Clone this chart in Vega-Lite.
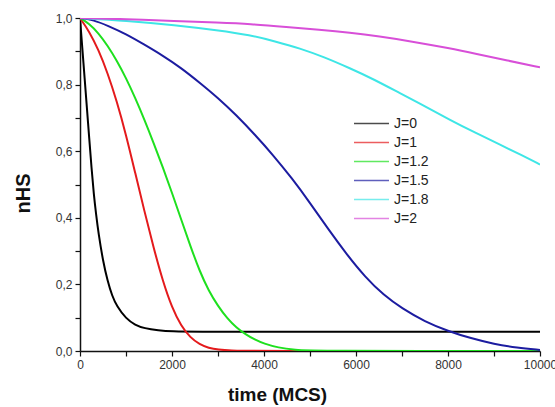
{
  "$schema": "https://vega.github.io/schema/vega-lite/v6.json",
  "width": 460,
  "height": 333,
  "autosize": "none",
  "padding": {"left": 80, "top": 18, "right": 15, "bottom": 56},
  "background": "white",
  "config": {
    "view": {"stroke": null},
    "font": "Liberation Sans"
  },
  "data": {
    "values": [
      {"J": "J=0", "t": 0, "n": 1.0},
      {"J": "J=0", "t": 50, "n": 0.91},
      {"J": "J=0", "t": 100, "n": 0.82},
      {"J": "J=0", "t": 150, "n": 0.73},
      {"J": "J=0", "t": 200, "n": 0.64},
      {"J": "J=0", "t": 250, "n": 0.55},
      {"J": "J=0", "t": 300, "n": 0.47},
      {"J": "J=0", "t": 350, "n": 0.41},
      {"J": "J=0", "t": 400, "n": 0.355},
      {"J": "J=0", "t": 500, "n": 0.27},
      {"J": "J=0", "t": 600, "n": 0.21},
      {"J": "J=0", "t": 700, "n": 0.165},
      {"J": "J=0", "t": 800, "n": 0.135},
      {"J": "J=0", "t": 1000, "n": 0.097},
      {"J": "J=0", "t": 1200, "n": 0.078},
      {"J": "J=0", "t": 1400, "n": 0.068},
      {"J": "J=0", "t": 1700, "n": 0.062},
      {"J": "J=0", "t": 2000, "n": 0.059},
      {"J": "J=0", "t": 2500, "n": 0.058},
      {"J": "J=0", "t": 4000, "n": 0.058},
      {"J": "J=0", "t": 6000, "n": 0.058},
      {"J": "J=0", "t": 8000, "n": 0.058},
      {"J": "J=0", "t": 10000, "n": 0.058},

      {"J": "J=1", "t": 0, "n": 1.0},
      {"J": "J=1", "t": 200, "n": 0.96},
      {"J": "J=1", "t": 400, "n": 0.905},
      {"J": "J=1", "t": 600, "n": 0.835},
      {"J": "J=1", "t": 800, "n": 0.75},
      {"J": "J=1", "t": 1000, "n": 0.65},
      {"J": "J=1", "t": 1200, "n": 0.535},
      {"J": "J=1", "t": 1400, "n": 0.42},
      {"J": "J=1", "t": 1600, "n": 0.31},
      {"J": "J=1", "t": 1800, "n": 0.21},
      {"J": "J=1", "t": 2000, "n": 0.13},
      {"J": "J=1", "t": 2200, "n": 0.075},
      {"J": "J=1", "t": 2400, "n": 0.04},
      {"J": "J=1", "t": 2600, "n": 0.02},
      {"J": "J=1", "t": 2800, "n": 0.009},
      {"J": "J=1", "t": 3000, "n": 0.004},
      {"J": "J=1", "t": 3300, "n": 0.001},
      {"J": "J=1", "t": 3600, "n": 0.0},
      {"J": "J=1", "t": 10000, "n": 0.0},

      {"J": "J=1.2", "t": 0, "n": 1.0},
      {"J": "J=1.2", "t": 200, "n": 0.983},
      {"J": "J=1.2", "t": 400, "n": 0.955},
      {"J": "J=1.2", "t": 600, "n": 0.917},
      {"J": "J=1.2", "t": 800, "n": 0.872},
      {"J": "J=1.2", "t": 1000, "n": 0.82},
      {"J": "J=1.2", "t": 1200, "n": 0.76},
      {"J": "J=1.2", "t": 1400, "n": 0.695},
      {"J": "J=1.2", "t": 1600, "n": 0.625},
      {"J": "J=1.2", "t": 1800, "n": 0.552},
      {"J": "J=1.2", "t": 2000, "n": 0.475},
      {"J": "J=1.2", "t": 2200, "n": 0.395},
      {"J": "J=1.2", "t": 2400, "n": 0.315},
      {"J": "J=1.2", "t": 2600, "n": 0.24},
      {"J": "J=1.2", "t": 2800, "n": 0.18},
      {"J": "J=1.2", "t": 3000, "n": 0.135},
      {"J": "J=1.2", "t": 3200, "n": 0.098},
      {"J": "J=1.2", "t": 3400, "n": 0.07},
      {"J": "J=1.2", "t": 3600, "n": 0.05},
      {"J": "J=1.2", "t": 3800, "n": 0.034},
      {"J": "J=1.2", "t": 4000, "n": 0.022},
      {"J": "J=1.2", "t": 4300, "n": 0.01},
      {"J": "J=1.2", "t": 4700, "n": 0.003},
      {"J": "J=1.2", "t": 5000, "n": 0.0},
      {"J": "J=1.2", "t": 10000, "n": 0.0},

      {"J": "J=1.5", "t": 0, "n": 1.0},
      {"J": "J=1.5", "t": 300, "n": 0.994},
      {"J": "J=1.5", "t": 600, "n": 0.977},
      {"J": "J=1.5", "t": 1000, "n": 0.952},
      {"J": "J=1.5", "t": 1400, "n": 0.92},
      {"J": "J=1.5", "t": 1800, "n": 0.887},
      {"J": "J=1.5", "t": 2200, "n": 0.85},
      {"J": "J=1.5", "t": 2600, "n": 0.806},
      {"J": "J=1.5", "t": 3000, "n": 0.76},
      {"J": "J=1.5", "t": 3400, "n": 0.708},
      {"J": "J=1.5", "t": 3800, "n": 0.65},
      {"J": "J=1.5", "t": 4200, "n": 0.588},
      {"J": "J=1.5", "t": 4600, "n": 0.52},
      {"J": "J=1.5", "t": 5000, "n": 0.445},
      {"J": "J=1.5", "t": 5400, "n": 0.365},
      {"J": "J=1.5", "t": 5800, "n": 0.29},
      {"J": "J=1.5", "t": 6200, "n": 0.222},
      {"J": "J=1.5", "t": 6600, "n": 0.168},
      {"J": "J=1.5", "t": 7000, "n": 0.128},
      {"J": "J=1.5", "t": 7500, "n": 0.088},
      {"J": "J=1.5", "t": 8000, "n": 0.06},
      {"J": "J=1.5", "t": 8500, "n": 0.038},
      {"J": "J=1.5", "t": 9000, "n": 0.021},
      {"J": "J=1.5", "t": 9500, "n": 0.01},
      {"J": "J=1.5", "t": 10000, "n": 0.003},

      {"J": "J=1.8", "t": 0, "n": 1.0},
      {"J": "J=1.8", "t": 1000, "n": 0.992},
      {"J": "J=1.8", "t": 2065, "n": 0.979},
      {"J": "J=1.8", "t": 3000, "n": 0.963},
      {"J": "J=1.8", "t": 3696, "n": 0.949},
      {"J": "J=1.8", "t": 4239, "n": 0.93},
      {"J": "J=1.8", "t": 4783, "n": 0.909},
      {"J": "J=1.8", "t": 5300, "n": 0.883},
      {"J": "J=1.8", "t": 5870, "n": 0.849},
      {"J": "J=1.8", "t": 6400, "n": 0.815},
      {"J": "J=1.8", "t": 6957, "n": 0.774},
      {"J": "J=1.8", "t": 7500, "n": 0.735},
      {"J": "J=1.8", "t": 8043, "n": 0.694},
      {"J": "J=1.8", "t": 8600, "n": 0.655},
      {"J": "J=1.8", "t": 9130, "n": 0.62},
      {"J": "J=1.8", "t": 9600, "n": 0.588},
      {"J": "J=1.8", "t": 10000, "n": 0.56},

      {"J": "J=2", "t": 0, "n": 1.0},
      {"J": "J=2", "t": 1000, "n": 0.997},
      {"J": "J=2", "t": 2065, "n": 0.991},
      {"J": "J=2", "t": 3000, "n": 0.986},
      {"J": "J=2", "t": 3696, "n": 0.982},
      {"J": "J=2", "t": 4500, "n": 0.973},
      {"J": "J=2", "t": 5200, "n": 0.965},
      {"J": "J=2", "t": 5870, "n": 0.956},
      {"J": "J=2", "t": 6500, "n": 0.945},
      {"J": "J=2", "t": 7200, "n": 0.93},
      {"J": "J=2", "t": 8043, "n": 0.909},
      {"J": "J=2", "t": 8600, "n": 0.893},
      {"J": "J=2", "t": 9300, "n": 0.872},
      {"J": "J=2", "t": 10000, "n": 0.852}
    ]
  },
  "mark": {"type": "line", "interpolate": "basis", "strokeWidth": 2, "clip": true},
  "encoding": {
    "x": {
      "field": "t",
      "type": "quantitative",
      "scale": {"domain": [0, 10000], "nice": false},
      "axis": {
        "title": "time (MCS)",
        "titleFontSize": 19,
        "titleFontWeight": "bold",
        "titleColor": "#111",
        "titleX": 197,
        "titleY": 49,
        "titleBaseline": "alphabetic",
        "values": [0, 1000, 2000, 3000, 4000, 5000, 6000, 7000, 8000, 9000, 10000],
        "labelExpr": "round(datum.value/1000) % 2 === 0 ? format(datum.value, 'd') : ''",
        "labelFontSize": 12,
        "labelColor": "#333",
        "labelFlush": false,
        "labelOverlap": false,
        "labelBound": false,
        "labelPadding": 3,
        "tickSize": 5,
        "tickColor": "#111",
        "tickWidth": 1.2,
        "domainColor": "#111",
        "domainWidth": 1.5,
        "grid": false
      }
    },
    "y": {
      "field": "n",
      "type": "quantitative",
      "scale": {"domain": [0, 1], "nice": false},
      "axis": {
        "title": "nHS",
        "titleFontSize": 20,
        "titleFontWeight": "bold",
        "titleColor": "#111",
        "titlePadding": 22,
        "titleY": 175,
        "values": [0, 0.1, 0.2, 0.3, 0.4, 0.5, 0.6, 0.7, 0.8, 0.9, 1.0],
        "labelExpr": "round(datum.value*10) % 2 === 0 ? replace(format(datum.value, '.1f'), '.', ',') : ''",
        "labelFontSize": 12,
        "labelColor": "#333",
        "labelFlush": false,
        "labelOverlap": false,
        "labelBound": false,
        "labelPadding": 3,
        "tickSize": 5,
        "tickColor": "#111",
        "tickWidth": 1.2,
        "domainColor": "#111",
        "domainWidth": 1.5,
        "grid": false
      }
    },
    "color": {
      "field": "J",
      "type": "nominal",
      "scale": {
        "domain": ["J=0", "J=1", "J=1.2", "J=1.5", "J=1.8", "J=2"],
        "range": ["#000000", "#e41a1c", "#1ee01e", "#1c1ca0", "#3ee6e6", "#d84fd8"]
      },
      "legend": {
        "title": null,
        "orient": "none",
        "legendX": 282,
        "legendY": 96,
        "padding": 0,
        "symbolType": "M-2,0H2",
        "symbolSize": 306,
        "symbolStrokeWidth": 1.5,
        "symbolOpacity": 0.7,
        "rowPadding": 2,
        "labelFontSize": 14,
        "labelColor": "#222",
        "labelOffset": 13
      }
    },
    "order": {"field": "t", "type": "quantitative"}
  }
}
